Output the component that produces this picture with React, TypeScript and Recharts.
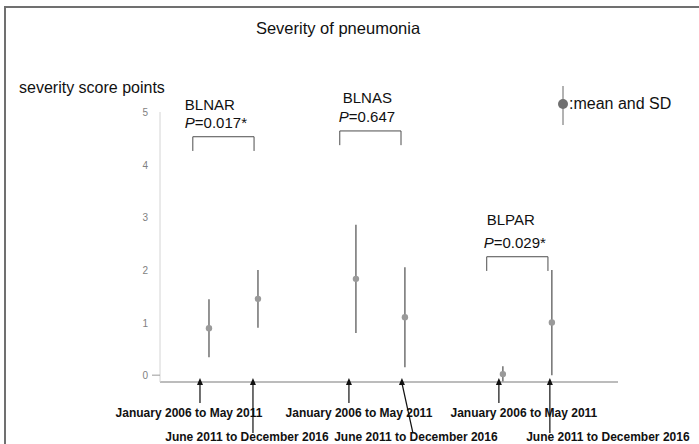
import React from "react";
import {
  ScatterChart,
  Scatter,
  ErrorBar,
  XAxis,
  YAxis,
  ReferenceLine,
  ReferenceDot,
} from "recharts";

const periods = ["January 2006 to May 2011", "June 2011 to December 2016"];
const groups = ["BLNAR", "BLNAS", "BLPAR"];
const pValues = ["0.017*", "0.647", "0.029*"];
const xPositions = [1, 2, 4, 5, 7, 8];
const means = [0.89, 1.45, 1.83, 1.1, 0.02, 1.0];
const sds = [0.55, 0.55, 1.03, 0.95, 0.15, 1.0];
const yTicks = [0, 1, 2, 3, 4, 5];

const data = xPositions.map((x, i) => ({
  x,
  mean: means[i],
  sd: sds[i],
  period: periods[i % 2],
}));

// annotation layout (data units / pixel nudges)
const BRACKET_TOP = [4.53, 4.64, 2.25];
const BRACKET_LEG = 0.27;
const NAME_DY = [-27, -28, -32];
const NAME_DX = [-8, 3, 0];
const P_DX = [-8, -1, -3];
const ARROW_DX = [-9, -5, -7, -3, -4, -2];
const LABEL_DX = [-20, -11, 3, 11, 21, 56];
const TICK_SHIFT = -6; // tick y sits a little below the axis line

const FONT = "'Liberation Sans', Arial, sans-serif";
const LINE = "#4d4d4d";

const XTick = (props: any) => {
  const { x, index } = props;
  const y = props.y + TICK_SHIFT;
  const row = index % 2;
  const ax = x + ARROW_DX[index];
  const bottom = row === 0 ? 27 : 57;
  const slant = index === 3 ? 11 : 0;
  const tipY = y + 2;
  return (
    <g>
      <line x1={ax} y1={tipY + 5} x2={ax + slant} y2={y + bottom} stroke="#111" strokeWidth={1.2} />
      <polygon
        points={`${ax},${tipY} ${ax - 3},${tipY + 7} ${ax + 3},${tipY + 7}`}
        fill="#111"
      />
      <text
        x={x + LABEL_DX[index]}
        y={row === 0 ? y + 41 : y + 65}
        textAnchor="middle"
        fontFamily={FONT}
        fontWeight="bold"
        fontSize={12}
        fill="#111"
      >
        {periods[row]}
      </text>
    </g>
  );
};

const YTick = (props: any) => {
  const { x, y, payload } = props;
  return (
    <g>
      {payload.value === 0 && (
        <line x1={x + 4} y1={y} x2={x + 12} y2={y} stroke="#999" />
      )}
      <text x={x} y={y + 4} textAnchor="end" fontFamily={FONT} fontSize={10} fill="#7f7f7f">
        {payload.value}
      </text>
    </g>
  );
};

export default function App() {
  return (
    <div
      style={{
        position: "absolute",
        left: 0,
        top: 0,
        width: 699,
        height: 444,
        overflow: "hidden",
        background: "#fff",
      }}
    >
      <div
        style={{
          position: "absolute",
          left: 4,
          top: 6,
          width: 720,
          height: 460,
          borderLeft: "2px solid #707070",
          borderTop: "2px solid #707070",
        }}
      />
      <ScatterChart
        width={699}
        height={444}
        margin={{ top: 112, right: 81, bottom: 32, left: 100 }}
        style={{ position: "absolute", left: 0, top: 0 }}
      >
        <XAxis
          dataKey="x"
          type="number"
          domain={[0, 9.35]}
          ticks={xPositions}
          height={30}
          tickSize={0}
          tickMargin={0}
          tickLine={false}
          axisLine={{ stroke: "#a6a6a6", strokeWidth: 1.5 }}
          tick={<XTick />}
          interval={0}
        />
        <YAxis
          dataKey="mean"
          type="number"
          domain={[0, 5]}
          ticks={yTicks}
          width={60}
          tickSize={0}
          tickMargin={12}
          tickLine={false}
          axisLine={{ stroke: "#d4d4d4" }}
          tick={<YTick />}
        />
        {groups.map((g, i) => {
          const x0 = xPositions[2 * i] - 0.33;
          const x1 = xPositions[2 * i + 1] - 0.08;
          const top = BRACKET_TOP[i];
          return (
            <React.Fragment key={g}>
              <ReferenceLine segment={[{ x: x0, y: top - BRACKET_LEG }, { x: x0, y: top }]} stroke={LINE} />
              <ReferenceLine segment={[{ x: x0, y: top }, { x: x1, y: top }]} stroke={LINE} />
              <ReferenceLine segment={[{ x: x1, y: top }, { x: x1, y: top - BRACKET_LEG }]} stroke={LINE} />
              <ReferenceDot
                x={x0}
                y={top}
                r={0}
                shape={(p: any) => (
                  <g fontFamily={FONT} fontSize={15} fill="#111">
                    <text x={p.cx + NAME_DX[i]} y={p.cy + NAME_DY[i]}>{g}</text>
                    <text x={p.cx + P_DX[i]} y={p.cy - 9}>
                      <tspan fontStyle="italic">P</tspan>={pValues[i]}
                    </text>
                  </g>
                )}
              />
            </React.Fragment>
          );
        })}
        <Scatter
          data={data}
          dataKey="mean"
          isAnimationActive={false}
          shape={(p: any) => <circle cx={p.cx} cy={p.cy} r={3.2} fill="#9a9a9a" />}
        >
          <ErrorBar dataKey="sd" direction="y" width={0} stroke={LINE} strokeWidth={1.2} />
        </Scatter>
      </ScatterChart>
      <svg
        width={699}
        height={444}
        style={{ position: "absolute", left: 0, top: 0, pointerEvents: "none" }}
      >
        <text x={338} y={34} textAnchor="middle" fontFamily={FONT} fontSize={16.5} fill="#111">
          Severity of pneumonia
        </text>
        <text x={19} y={93} fontFamily={FONT} fontSize={16} fill="#111">
          severity score points
        </text>
        <line x1={563} y1={86} x2={563} y2={125} stroke="#666" />
        <circle cx={563} cy={104} r={5} fill="#707070" />
        <text x={569} y={109} fontFamily={FONT} fontSize={16} fill="#111">
          :mean and SD
        </text>
      </svg>
    </div>
  );
}
